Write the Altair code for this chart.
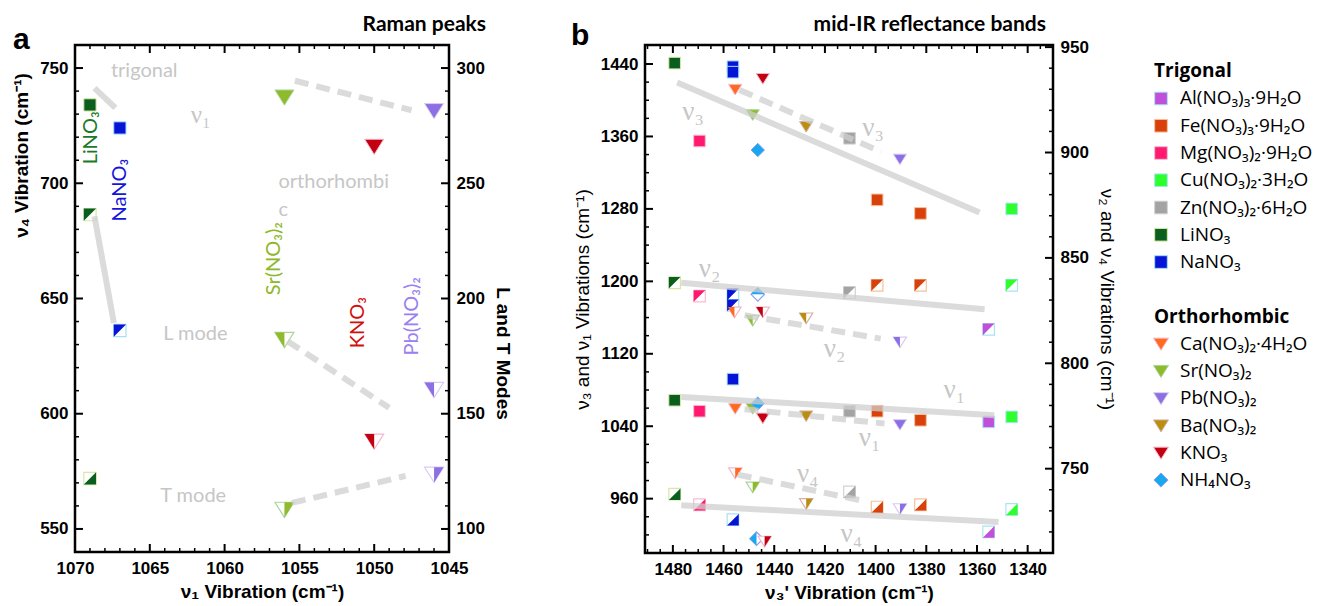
import altair as alt
import pandas as pd

# ---------------- compounds ----------------
KEYS = ["Al", "Fe", "Mg", "Cu", "Zn", "Li", "Na", "Ca", "Sr", "Pb", "Ba", "K", "NH4"]
NAMES = ["Al(NO₃)₃·9H₂O", "Fe(NO₃)₃·9H₂O", "Mg(NO₃)₂·9H₂O", "Cu(NO₃)₂·3H₂O",
         "Zn(NO₃)₂·6H₂O", "LiNO₃", "NaNO₃",
         "Ca(NO₃)₂·4H₂O", "Sr(NO₃)₂", "Pb(NO₃)₂", "Ba(NO₃)₂", "KNO₃", "NH₄NO₃"]
FILLS = ["#C04FDA", "#D8400C", "#FF1A70", "#2DFF2D", "#A3A3A3", "#0B5F1E", "#0514D6",
         "#FF6A1E", "#8FBA2C", "#8C6FE4", "#B98F0E", "#C2000F", "#18A8EE"]
OUTLINES = ["#A9E4F5", "#F6C29A", "#F7BDD3", "#A9E4F5", "#D2D2D2", "#D7E8A6", "#A6DFF6",
            "#F7B5C8", "#A9D69B", "#D9CBF2", "#D9AFA4", "#F4B6CC", "#8F9BF2"]
KINDS = ["sq"] * 7 + ["tri"] * 5 + ["dia"]

# ---------------- panel a : Raman ----------------
A_TITLE = "Raman peaks"
A_NU4_KEY = ["Li", "Na", "Sr", "K", "Pb"]
A_NU4_X = [1069, 1067, 1056, 1050, 1046]
A_NU4_Y = [734, 724, 737.4, 716, 731.5]
A_L_KEY = ["Li", "Na", "Sr", "Pb", "K"]
A_L_X = [1069, 1067, 1056, 1046, 1050]
A_L_Y = [236.4, 186.1, 182.2, 160.5, 138.1]
A_T_KEY = ["Li", "Pb", "Sr"]
A_T_X = [1069, 1046, 1056]
A_T_Y = [121.9, 123.7, 108.5]
A_LINES_LEFT = [(1068.7, 741.3, 1067.3, 732.7, 0), (1055.3, 744.5, 1047.5, 731.7, 1)]
A_LINES_RIGHT = [(1068.7, 235.7, 1067.4, 189.4, 0), (1055.8, 181.5, 1049.0, 152.6, 1),
                 (1055.5, 111.3, 1047.9, 123.0, 1)]
A_NOTE_TEXT = ["trigonal", "orthorhombi", "c", "L mode", "T mode"]
A_NOTE_X = [1067.6, 1056.4, 1056.4, 1064.1, 1064.3]
A_NOTE_Y = [748.6, 700.6, 688.6, 634.7, 564.3]
A_NU_TEXT = ["ν₁"]
A_NU_X = [1061.6]
A_NU_Y = [729.5]
A_CMP_TEXT = ["LiNO₃", "NaNO₃", "Sr(NO₃)₂", "KNO₃", "Pb(NO₃)₂"]
A_CMP_COLOR = ["#1B7A2A", "#1414DD", "#8DB82A", "#D11010", "#9A80F0"]
A_CMP_X = [1068.9, 1067.0, 1056.7, 1051.1, 1047.5]
A_CMP_Y = [719.7, 697.0, 667.3, 639.5, 642.3]
A_XMAJ = [1045, 1050, 1055, 1060, 1065, 1070]
A_YLMAJ = [550, 600, 650, 700, 750]
A_YRMAJ = [100, 150, 200, 250, 300]

# ---------------- panel b : mid-IR ----------------
B_TITLE = "mid-IR reflectance bands"
B_NU3_KEY = ["Li", "Na", "Na", "K", "Ca", "Sr", "Ba", "Mg", "NH4", "Zn", "Pb", "Fe", "Fe", "Cu"]
B_NU3_X = [1479.3, 1456.3, 1456.3, 1444.5, 1455.4, 1448.5, 1427.4, 1469.5, 1446.5, 1410.3,
           1390.4, 1399.4, 1382.3, 1346.3]
B_NU3_Y = [1441, 1437, 1431, 1424, 1412, 1384, 1371, 1355, 1345, 1358, 1335, 1290, 1275, 1280]
B_NU1_KEY = ["Na", "Li", "Mg", "Ca", "Sr", "NH4", "K", "Ba", "Zn", "Fe", "Fe", "Pb", "Al", "Cu"]
B_NU1_X = [1456.3, 1479.3, 1469.5, 1455.4, 1448.5, 1446.5, 1444.5, 1427.4, 1410.3, 1399.4,
           1382.3, 1390.4, 1355.4, 1346.3]
B_NU1_Y = [1092, 1068.7, 1056.6, 1059.5, 1059.5, 1065, 1049, 1051.4, 1056.6, 1056.6, 1046.6,
           1041.8, 1044.8, 1050.3]
B_NU2_KEY = ["Li", "Mg", "Na", "Na", "NH4", "Zn", "Fe", "Fe", "Cu", "Ca", "K", "Sr", "Ba", "Pb", "Al"]
B_NU2_X = [1479.3, 1469.5, 1456.3, 1456.3, 1446.5, 1410.3, 1399.4, 1382.3, 1346.3, 1455.7,
           1444.5, 1448.5, 1427.4, 1390.4, 1355.4]
B_NU2_Y = [838.2, 831.9, 832.7, 827.5, 832.7, 833.5, 837, 837, 837, 824.3, 824.3, 820.4, 821.5,
           810.1, 816.1]
B_NU4_KEY = ["Ca", "Sr", "Li", "Mg", "Ba", "Na", "NH4", "K", "Zn", "Fe", "Fe", "Pb", "Cu", "Al"]
B_NU4_X = [1455.4, 1448.5, 1479.3, 1469.5, 1427.4, 1456.3, 1447, 1443.8, 1410.3, 1399.4,
           1382.3, 1390.4, 1346.3, 1355.4]
B_NU4_Y = [748, 741.3, 737.9, 732.9, 733.4, 725.8, 716.8, 715.6, 739, 731.8, 732.9, 731, 730.7, 720]
B_LINES_LEFT = [(1478.3, 1419.7, 1359, 1276, 0), (1453.7, 1411.3, 1397.9, 1343.1, 1),
                (1476.7, 1072.4, 1353.2, 1052.2, 0), (1451.7, 1058.8, 1396.5, 1043, 1)]
B_LINES_RIGHT = [(1476.7, 838.2, 1357, 825.6, 0), (1451.7, 822.8, 1398, 811.7, 1),
                 (1476.7, 732.6, 1351.5, 724.7, 0), (1454.4, 747.2, 1404, 734.5, 1)]
B_NOTE_L_TEXT = ["ν₃", "ν₃", "ν₁", "ν₁"]
B_NOTE_L_X = [1472, 1401, 1368.9, 1402.4]
B_NOTE_L_Y = [1387, 1369, 1079.6, 1027.5]
B_NOTE_R_TEXT = ["ν₂", "ν₂", "ν₄", "ν₄"]
B_NOTE_R_X = [1465.5, 1416.2, 1426.8, 1409.6]
B_NOTE_R_Y = [844.9, 806.9, 747.6, 719]
B_XMAJ = [1340, 1360, 1380, 1400, 1420, 1440, 1460, 1480]
B_YLMAJ = [960, 1040, 1120, 1200, 1280, 1360, 1440]
B_YRMAJ = [750, 800, 850, 900, 950]

# ---------------- legend ----------------
LEG_HEAD = ["Trigonal", "Orthorhombic"]
LEG_HEAD_ROW = [0, 9]
LEG_ROW = [1, 2, 3, 4, 5, 6, 7, 10, 11, 12, 13, 14, 15]

# ---------------- helpers ----------------
SHAPES = {
    "sq": ("M-1,-1L1,-1L1,1L-1,1Z", "M-1,-1L1,-1L-1,1Z", "M1,-1L1,1L-1,1Z"),
    "tri": ("M-1,-0.75L1,-0.75L0,0.85Z", "M-1,-0.75L0,-0.75L0,0.85Z", "M0,-0.75L1,-0.75L0,0.85Z"),
    "dia": ("M0,-1L1,0L0,1L-1,0Z", "M-1,0L0,-1L1,0Z", "M0,-1L-1,0L0,1Z"),
}
LINE_COLOR = "#cfcfcf"
NOTE_COLOR = "#c6c6c6"
SANS = "Liberation Sans"
SOFT = "Lato"
SERIF = "Liberation Serif"


def marker_df(keys, xs, ys, part, sizes):
    rows = []
    for k, x, y in zip(keys, xs, ys):
        i = KEYS.index(k)
        kind = KINDS[i]
        rows.append({"x": x, "y": y, "full": SHAPES[kind][0], "half": SHAPES[kind][part],
                     "fill": FILLS[i], "outline": OUTLINES[i], "size": sizes[kind]})
    return pd.DataFrame(rows)


def full_markers(df, X, Y):
    return alt.Chart(df).mark_point(filled=True, opacity=1, strokeWidth=1).encode(
        x=X, y=Y,
        shape=alt.Shape("full:N", scale=None),
        fill=alt.Fill("fill:N", scale=None),
        stroke=alt.Stroke("outline:N", scale=None),
        size=alt.Size("size:Q", scale=None))


def half_markers(df, X, Y):
    bg = alt.Chart(df).mark_point(filled=True, fill="white", opacity=1, strokeWidth=1.2).encode(
        x=X, y=Y,
        shape=alt.Shape("full:N", scale=None),
        stroke=alt.Stroke("outline:N", scale=None),
        size=alt.Size("size:Q", scale=None))
    fg = alt.Chart(df).mark_point(filled=True, opacity=1, strokeWidth=0).encode(
        x=X, y=Y,
        shape=alt.Shape("half:N", scale=None),
        fill=alt.Fill("fill:N", scale=None),
        size=alt.Size("size:Q", scale=None))
    return [bg, fg]


def line_layers(segs, X, Y):
    out = []
    for dashed in (0, 1):
        sel = [s for s in segs if s[4] == dashed]
        if not sel:
            continue
        df = pd.DataFrame({"x": [s[0] for s in sel], "y": [s[1] for s in sel],
                           "x2": [s[2] for s in sel], "y2": [s[3] for s in sel]})
        kw = dict(color=LINE_COLOR, strokeWidth=6, opacity=0.75, strokeCap="butt")
        if dashed:
            kw["strokeDash"] = [14, 8]
        out.append(alt.Chart(df).mark_rule(**kw).encode(x=X, y=Y, x2="x2:Q", y2="y2:Q"))
    return out


def minors(lo, hi, step, majors):
    vals = []
    v = lo
    while v <= hi + 1e-9:
        if all(abs(v - m) > 1e-6 for m in majors):
            vals.append(round(v, 6))
        v += step
    return vals


def ytick_layers(major, minor, Y, side, W):
    out = []
    for vals, ln, sw in ((major, 8, 2), (minor, 4, 1.5)):
        df = pd.DataFrame({"y": vals})
        if side == "left":
            xe, x2e = alt.value(0), alt.value(ln)
        else:
            xe, x2e = alt.value(W - ln), alt.value(W)
        out.append(alt.Chart(df).mark_rule(color="black", strokeWidth=sw).encode(y=Y, x=xe, x2=x2e))
    return out


def xtick_layers(major, minor, X, H):
    out = []
    for vals, ln, sw in ((major, 8, 2), (minor, 4, 1.5)):
        df = pd.DataFrame({"x": vals})
        out.append(alt.Chart(df).mark_rule(color="black", strokeWidth=sw).encode(
            x=X, y=alt.value(H - ln), y2=alt.value(H)))
        out.append(alt.Chart(df).mark_rule(color="black", strokeWidth=sw).encode(
            x=X, y=alt.value(0), y2=alt.value(ln)))
    return out


def axis(orient, values, title, bold_title=True, pad=7, tpad=8, title_y=None):
    kw = dict(orient=orient, values=values, format="d", ticks=False, domain=False, grid=False,
              labelFlush=False, labelOverlap=False,
              labelFont=SANS, labelFontWeight="bold", labelFontSize=17, labelColor="black",
              labelPadding=pad, title=title, titleFont=SANS,
              titleFontWeight="bold" if bold_title else "normal",
              titleFontSize=19, titleColor="black", titlePadding=tpad)
    if title_y is not None:
        kw["titleY"] = title_y
    return alt.Axis(**kw)


def letter(ch, dx, dy):
    return alt.Chart(pd.DataFrame({"t": [ch]})).mark_text(
        align="left", baseline="alphabetic", font=SANS, fontSize=30, fontWeight="bold",
        color="black").encode(x=alt.value(dx), y=alt.value(dy), text="t:N")


def heading(txt, xr, dy):
    return alt.Chart(pd.DataFrame({"t": [txt]})).mark_text(
        align="right", baseline="alphabetic", font=SOFT, fontSize=21, fontWeight="bold",
        color="black").encode(x=alt.value(xr), y=alt.value(dy), text="t:N")


# ---------------- panel a ----------------
AW, AH = 374, 507
XA = alt.X("x:Q", scale=alt.Scale(domain=[1045, 1070], reverse=True, nice=False, zero=False),
           axis=axis("bottom", A_XMAJ, "ν₁ Vibration (cm⁻¹)", pad=8, tpad=6))
YAL = alt.Y("y:Q", scale=alt.Scale(domain=[540, 760], nice=False, zero=False),
            axis=axis("left", A_YLMAJ, "ν₄ Vibration (cm⁻¹)", title_y=110))
YAR = alt.Y("y:Q", scale=alt.Scale(domain=[90, 310], nice=False, zero=False),
            axis=axis("right", A_YRMAJ, "L and T Modes", title_y=308))

A_SIZES = {"sq": 150, "tri": 361, "dia": 200}
a_note = pd.DataFrame({"x": A_NOTE_X, "y": A_NOTE_Y, "t": A_NOTE_TEXT})
a_nu = pd.DataFrame({"x": A_NU_X, "y": A_NU_Y, "t": A_NU_TEXT})
a_cmp = pd.DataFrame({"x": A_CMP_X, "y": A_CMP_Y, "t": A_CMP_TEXT, "c": A_CMP_COLOR})

a_left = alt.layer(
    *ytick_layers(A_YLMAJ, minors(550, 750, 10, A_YLMAJ), YAL, "left", AW),
    *xtick_layers(A_XMAJ, minors(1045, 1070, 1, A_XMAJ), XA, AH),
    full_markers(marker_df(A_NU4_KEY, A_NU4_X, A_NU4_Y, 0, A_SIZES), XA, YAL),
    *line_layers(A_LINES_LEFT, XA, YAL),
    alt.Chart(a_note).mark_text(align="left", baseline="middle", font=SOFT, fontSize=20,
                                color=NOTE_COLOR).encode(x=XA, y=YAL, text="t:N"),
    alt.Chart(a_nu).mark_text(align="center", baseline="middle", font=SERIF, fontSize=25,
                              color=NOTE_COLOR).encode(x=XA, y=YAL, text="t:N"),
    alt.Chart(a_cmp).mark_text(angle=270, align="center", baseline="middle", font=SOFT,
                               fontSize=20).encode(x=XA, y=YAL, text="t:N",
                                                   color=alt.Color("c:N", scale=None)),
    letter("a", -62, 4),
    heading(A_TITLE, AW + 37, -14),
)
a_right = alt.layer(
    *ytick_layers(A_YRMAJ, minors(100, 300, 10, A_YRMAJ), YAR, "right", AW),
    *half_markers(marker_df(A_L_KEY, A_L_X, A_L_Y, 1, A_SIZES), XA, YAR),
    *half_markers(marker_df(A_T_KEY, A_T_X, A_T_Y, 2, A_SIZES), XA, YAR),
    *line_layers(A_LINES_RIGHT, XA, YAR),
)
panel_a = alt.layer(a_left, a_right).resolve_scale(y="independent").properties(
    width=AW, height=AH)

# ---------------- panel b ----------------
BW, BH = 408, 508
XB = alt.X("x:Q", scale=alt.Scale(domain=[1330, 1491], reverse=True, nice=False, zero=False),
           axis=axis("bottom", B_XMAJ, "ν₃' Vibration (cm⁻¹)", pad=8, tpad=6))
YBL = alt.Y("y:Q", scale=alt.Scale(domain=[900, 1461], nice=False, zero=False),
            axis=axis("left", B_YLMAJ, "ν₃ and ν₁ Vibrations (cm⁻¹)", bold_title=False))
YBR = alt.Y("y:Q", scale=alt.Scale(domain=[710, 951], nice=False, zero=False),
            axis=axis("right", B_YRMAJ, "ν₂ and ν₄ Vibrations (cm⁻¹)", bold_title=False))

B_SIZES = {"sq": 135, "tri": 175, "dia": 180}
b_note_l = pd.DataFrame({"x": B_NOTE_L_X, "y": B_NOTE_L_Y, "t": B_NOTE_L_TEXT})
b_note_r = pd.DataFrame({"x": B_NOTE_R_X, "y": B_NOTE_R_Y, "t": B_NOTE_R_TEXT})
note_kw = dict(align="center", baseline="middle", font=SERIF, fontSize=27, color=NOTE_COLOR)

b_left = alt.layer(
    *ytick_layers(B_YLMAJ, minors(920, 1440, 20, B_YLMAJ), YBL, "left", BW),
    *xtick_layers(B_XMAJ, minors(1335, 1490, 5, B_XMAJ), XB, BH),
    full_markers(marker_df(B_NU3_KEY, B_NU3_X, B_NU3_Y, 0, B_SIZES), XB, YBL),
    full_markers(marker_df(B_NU1_KEY, B_NU1_X, B_NU1_Y, 0, B_SIZES), XB, YBL),
    *line_layers(B_LINES_LEFT, XB, YBL),
    alt.Chart(b_note_l).mark_text(**note_kw).encode(x=XB, y=YBL, text="t:N"),
    letter("b", -74, 0),
    heading(B_TITLE, BW - 7, -14),
)
b_right = alt.layer(
    *ytick_layers(B_YRMAJ, minors(720, 940, 10, B_YRMAJ), YBR, "right", BW),
    *half_markers(marker_df(B_NU2_KEY, B_NU2_X, B_NU2_Y, 1, B_SIZES), XB, YBR),
    *half_markers(marker_df(B_NU4_KEY, B_NU4_X, B_NU4_Y, 2, B_SIZES), XB, YBR),
    *line_layers(B_LINES_RIGHT, XB, YBR),
    alt.Chart(b_note_r).mark_text(**note_kw).encode(x=XB, y=YBR, text="t:N"),
)
panel_b = alt.layer(b_left, b_right).resolve_scale(y="independent").properties(
    width=BW, height=BH)

# ---------------- legend ----------------
L_SIZES = {"sq": 160, "tri": 225, "dia": 200}
leg_df = pd.DataFrame({
    "row": LEG_ROW, "name": NAMES,
    "full": [SHAPES[k][0] for k in KINDS], "fill": FILLS, "outline": OUTLINES,
    "size": [L_SIZES[k] for k in KINDS]})
head_df = pd.DataFrame({"row": LEG_HEAD_ROW, "name": LEG_HEAD})
LY = alt.Y("row:Q", scale=alt.Scale(domain=[-0.963, 17.64], reverse=True, nice=False, zero=False),
           axis=None)
legend = alt.layer(
    alt.Chart(leg_df).mark_point(filled=True, opacity=1, strokeWidth=1).encode(
        x=alt.value(7), y=LY,
        shape=alt.Shape("full:N", scale=None),
        fill=alt.Fill("fill:N", scale=None),
        stroke=alt.Stroke("outline:N", scale=None),
        size=alt.Size("size:Q", scale=None)),
    alt.Chart(leg_df).mark_text(align="left", baseline="middle", font="Open Sans", fontSize=19,
                                color="black").encode(x=alt.value(26), y=LY, text="name:N"),
    alt.Chart(head_df).mark_text(align="left", baseline="middle", font="Open Sans", fontSize=19,
                                 fontWeight="bold", color="black").encode(
        x=alt.value(0), y=LY, text="name:N"),
).properties(width=175, height=507, view=alt.ViewBackground(stroke="transparent"))

chart = alt.hconcat(
    alt.hconcat(panel_a, panel_b, spacing=56),
    legend, spacing=33,
).properties(padding={"left": 11, "top": 12, "right": 0, "bottom": 0}).configure_view(
    stroke="black", strokeWidth=2.5)

chart.save("out.html", embed_options={"renderer": "svg", "actions": False})
